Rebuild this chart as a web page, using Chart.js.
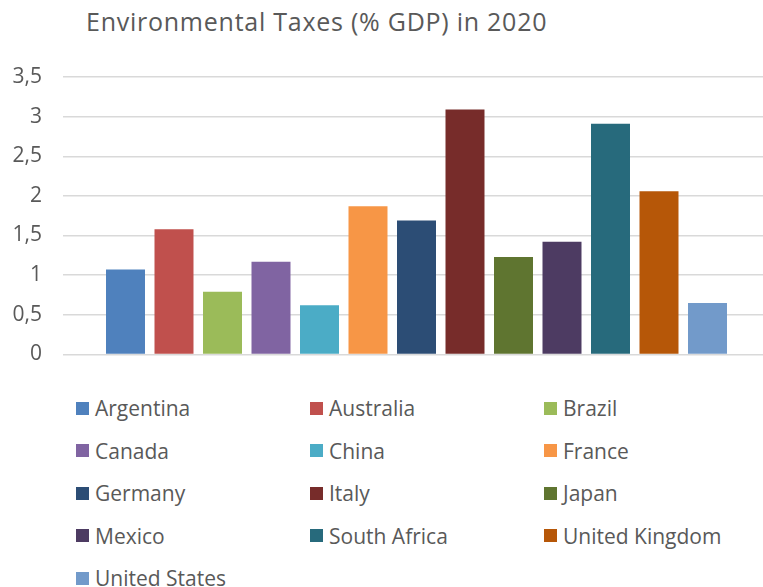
<!DOCTYPE html>
<html>
<head>
<meta charset="utf-8">
<script src="https://cdn.jsdelivr.net/npm/chart.js@4/dist/chart.umd.min.js"></script>
<style>
  html, body { margin: 0; padding: 0; background: #ffffff; overflow: hidden; }
  body { width: 763px; height: 587px; position: relative; font-family: "Open Sans", sans-serif; color: #595959; }
  #title { position: absolute; left: 86px; top: 4px; font-size: 25px; letter-spacing: 0.75px; white-space: nowrap; color: #595959; }
  #wrap { position: absolute; left: 0; top: 0; width: 770px; height: 388px; }
  #legend { position: absolute; left: 76px; top: 394px; width: 702px; }
  .item { position: absolute; display: flex; align-items: center; font-size: 21px; white-space: nowrap; color: #595959; }
  .sw { width: 13px; height: 13px; margin-right: 6px; flex: none; }
</style>
</head>
<body>
<div id="title">Environmental Taxes (% GDP) in 2020</div>
<div id="wrap"><canvas id="c" width="770" height="388" style="display:block"></canvas></div>
<div id="legend"></div>
<script>
const categories = ["Argentina", "Australia", "Brazil", "Canada", "China", "France", "Germany", "Italy", "Japan", "Mexico", "South Africa", "United Kingdom", "United States"];
const values = [1.07, 1.58, 0.79, 1.17, 0.62, 1.87, 1.69, 3.09, 1.23, 1.42, 2.91, 2.06, 0.65];
const colors = ["#4f81bd", "#c0504d", "#9bbb59", "#8064a2", "#4bacc6", "#f79646", "#2c4d75", "#772c2a", "#5f7530", "#4d3b62", "#276a7c", "#b65708", "#729aca"];
const yTicks = [0, 0.5, 1, 1.5, 2, 2.5, 3, 3.5];

const datasets = categories.map((name, i) => ({
  label: name,
  data: [values[i]],
  backgroundColor: colors[i],
  borderWidth: 0,
  categoryPercentage: 0.8918,
  barPercentage: 0.804
}));

new Chart(document.getElementById('c'), {
  type: 'bar',
  data: { labels: ["2020"], datasets },
  options: {
    responsive: false,
    animation: false,
    devicePixelRatio: 1,
    layout: { padding: { left: 0, right: 0, top: 77, bottom: 25 } },
    plugins: { legend: { display: false }, tooltip: { enabled: false }, title: { display: false } },
    scales: {
      x: { display: false },
      y: {
        min: 0, max: 3.5,
        afterBuildTicks: (s) => { s.ticks = yTicks.map(v => ({ value: v })); },
        afterFit: (s) => { s.width = 63; },
        border: { display: false },
        grid: { color: '#d9d9d9', lineWidth: 1.5, drawTicks: false },
        ticks: {
          padding: 21,
          color: '#595959',
          font: { family: 'Open Sans', size: 21 },
          callback: (v) => String(v).replace('.', ',')
        }
      }
    }
  }
});

const legend = document.getElementById('legend');
categories.forEach((name, i) => {
  const d = document.createElement('div');
  d.className = 'item';
  d.style.left = (i % 3) * 234 + 'px';
  d.style.top = Math.floor(i / 3) * 42.6 + 'px';
  d.innerHTML = '<span class="sw" style="background:' + colors[i] + '"></span><span>' + name + '</span>';
  legend.appendChild(d);
});
</script>
</body>
</html>
